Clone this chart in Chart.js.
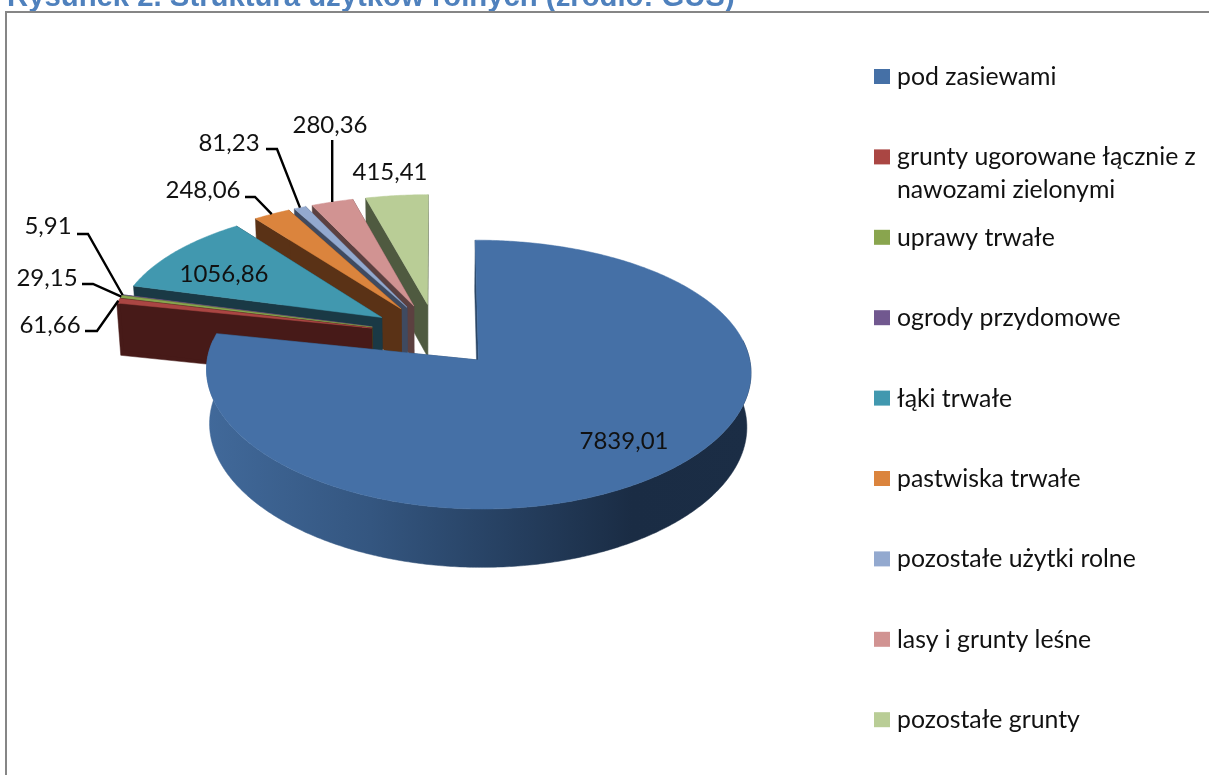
<!DOCTYPE html>
<html>
<head>
<meta charset="utf-8">
<title>Struktura użytków rolnych</title>
<script src="https://cdn.jsdelivr.net/npm/chart.js@4/dist/chart.umd.min.js"></script>
<style>
    html, body { margin: 0; padding: 0; background: #fff; overflow: hidden; }
    canvas { display: block; }
</style>
</head>
<body>
<canvas id="chart" width="1209" height="775"></canvas>
<script>
const categories = [
    "pod zasiewami",
    ["grunty ugorowane łącznie z", "nawozami zielonymi"],
    "uprawy trwałe",
    "ogrody przydomowe",
    "łąki trwałe",
    "pastwiska trwałe",
    "pozostałe użytki rolne",
    "lasy i grunty leśne",
    "pozostałe grunty"
];
const values = [7839.01, 61.66, 29.15, 5.91, 1056.86, 248.06, 81.23, 280.36, 415.41];

const topColors = ["#4570a6", "#aa4643", "#89a54e", "#71588f", "#4198af", "#db843d", "#93a9cf", "#d19392", "#b9cd96"];
const wallColors = ["#2b4666", "#471a18", "#3b4a20", "#332845", "#1a3945", "#5a3216", "#3f4a60", "#5c4040", "#4f5a40"];

// label spots: text centre, then where the leader starts (null x = straight down to the slice)
const labelSpots = [
    { x: 624, y: 441 },
    { x: 50, y: 325, leader: [[85, 331], [97, 331]] },
    { x: 47, y: 278, leader: [[82, 284], [93, 284]] },
    { x: 48, y: 226, leader: [[77, 234], [88, 234]] },
    { x: 224, y: 274 },
    { x: 203, y: 190, leader: [[245, 197], [255, 197]] },
    { x: 229, y: 143, leader: [[266, 149], [277, 149]] },
    { x: 330, y: 125, leader: [[null, 140]] },
    { x: 390, y: 172 }
];

// 3d view of the pie, fitted by eye against the picture
const view = { cx: 436, cy: 335, a: 127.5, b: 267, k: 0.106, kx: 0.082, explode: 0.248, depth: 54, depthShrink: 0.013 };

const labelFont = "24px Lato";
const legendFont = "24.8px Lato";

const project = (x, y, z) => {
    const w = 1 - view.k * y + view.depthShrink * z;
    const wx = 1 - view.kx * y + view.depthShrink * z;
    return [view.cx + view.b * x / wx, view.cy + (view.a * y + view.depth * z) / w];
};

const slicePoint = (arc, angle, radius, z) => {
    const mid = (arc.startAngle + arc.endAngle) / 2;
    const x = view.explode * Math.cos(mid) + radius * Math.cos(angle);
    const y = view.explode * Math.sin(mid) + radius * Math.sin(angle);
    return project(x, y, z);
};

const fillShape = (ctx, points, color) => {
    ctx.beginPath();
    points.forEach((p, i) => i === 0 ? ctx.moveTo(p[0], p[1]) : ctx.lineTo(p[0], p[1]));
    ctx.closePath();
    ctx.fillStyle = color;
    ctx.strokeStyle = color;
    ctx.lineWidth = 0.5;
    ctx.fill();
    ctx.stroke();
};

const arcPoints = (arc, from, to, z) => {
    const points = [];
    const steps = Math.max(2, Math.ceil((to - from) / 0.01));
    for (let i = 0; i <= steps; i++) {
        points.push(slicePoint(arc, from + (to - from) * i / steps, 1, z));
    }
    return points;
};

const radialWall = (ctx, arc, angle, color) => {
    fillShape(ctx, [
        slicePoint(arc, angle, 0, 0),
        slicePoint(arc, angle, 1, 0),
        slicePoint(arc, angle, 1, 1),
        slicePoint(arc, angle, 0, 1)
    ], color);
};

// only the part of the rim that faces us, a little past the widest points
const outerWall = (ctx, arc, color) => {
    const from = Math.max(arc.startAngle, -0.15);
    const to = Math.min(arc.endAngle, Math.PI + 0.15);
    if (to <= from) return;
    fillShape(ctx, arcPoints(arc, from, to, 0).concat(arcPoints(arc, from, to, 1).reverse()), color);
};

const mainWallShade = (ctx) => {
    const gradient = ctx.createLinearGradient(207, 0, 752, 0);
    gradient.addColorStop(0, "#41699a");
    gradient.addColorStop(0.3, "#345680");
    gradient.addColorStop(0.55, "#264061");
    gradient.addColorStop(0.78, "#1a2c44");
    gradient.addColorStop(1, "#1b2d45");
    return gradient;
};

const drawSlice = (ctx, arc, index) => {
    radialWall(ctx, arc, arc.startAngle, wallColors[index]);
    radialWall(ctx, arc, arc.endAngle, wallColors[index]);
    outerWall(ctx, arc, index === 0 ? mainWallShade(ctx) : wallColors[index]);
    const top = [slicePoint(arc, arc.startAngle, 0, 0)].concat(arcPoints(arc, arc.startAngle, arc.endAngle, 0));
    fillShape(ctx, top, topColors[index]);
};

const pie3d = {
    id: "pie3d",
    beforeDatasetDraw(chart, args) {
        const ctx = chart.ctx;
        const arcs = chart.getDatasetMeta(args.index).data;
        ctx.save();
        for (let i = arcs.length - 1; i >= 0; i--) {
            drawSlice(ctx, arcs[i], i);
        }
        ctx.restore();
        return false;
    },
    afterDatasetsDraw(chart) {
        const ctx = chart.ctx;
        const arcs = chart.getDatasetMeta(0).data;
        ctx.save();
        ctx.font = labelFont;
        ctx.textAlign = "center";
        ctx.textBaseline = "middle";
        ctx.strokeStyle = "#000";
        ctx.lineWidth = 2.4;
        values.forEach((value, i) => {
            const spot = labelSpots[i];
            if (spot.leader) {
                const mid = (arcs[i].startAngle + arcs[i].endAngle) / 2;
                const end = slicePoint(arcs[i], mid, 1, 0);
                ctx.beginPath();
                spot.leader.forEach((p, j) => {
                    const px = p[0] === null ? end[0] : p[0];
                    if (j === 0) ctx.moveTo(px, p[1]); else ctx.lineTo(px, p[1]);
                });
                ctx.lineTo(end[0], end[1]);
                ctx.stroke();
            }
            ctx.fillStyle = "#111";
            ctx.fillText(value.toFixed(2).replace(".", ","), spot.x, spot.y);
        });
        ctx.restore();
    },
    afterDraw(chart) {
        const ctx = chart.ctx;
        ctx.save();
        // frame runs off the right and bottom of the picture
        ctx.strokeStyle = "#868686";
        ctx.lineWidth = 2;
        ctx.beginPath();
        ctx.moveTo(6, 775);
        ctx.lineTo(6, 12);
        ctx.lineTo(1209, 12);
        ctx.stroke();

        // legend: even 80px rows, the wrapped entry spills into the gap below it
        ctx.font = legendFont;
        ctx.textBaseline = "middle";
        ctx.textAlign = "left";
        categories.forEach((name, i) => {
            const rowY = 77 + i * 80.4;
            ctx.fillStyle = topColors[i];
            ctx.fillRect(874, rowY - 8, 16, 15);
            ctx.fillStyle = "#111";
            [].concat(name).forEach((line, j) => ctx.fillText(line, 897, rowY + j * 32.5));
        });
        ctx.restore();
    }
};

new Chart(document.getElementById("chart"), {
    type: "pie",
    data: {
        labels: categories.map((c) => [].concat(c).join(" ")),
        datasets: [{ data: values, backgroundColor: topColors, borderWidth: 0 }]
    },
    options: {
        responsive: false,
        animation: false,
        layout: { padding: { left: 7 } },
        plugins: {
            legend: { display: false },
            tooltip: { enabled: false },
            title: {
                display: true,
                text: "Rysunek 2. Struktura użytków rolnych (źródło: GUS)",
                align: "start",
                color: "#4f81bd",
                font: { family: "Liberation Sans", size: 29.3, weight: "bold" },
                padding: { top: -20, bottom: 0 }
            }
        }
    },
    plugins: [pie3d]
});
</script>
</body>
</html>
